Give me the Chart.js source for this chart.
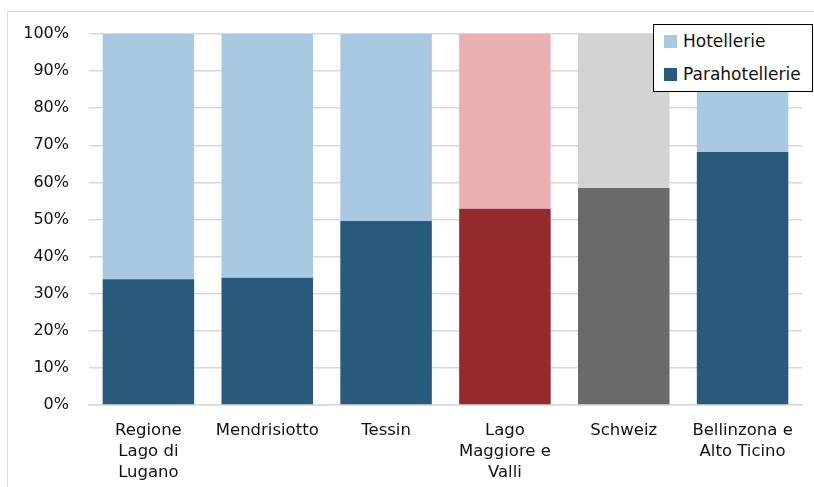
<!DOCTYPE html>
<html lang="de">
<head>
    <meta charset="UTF-8">
    <title>Hotellerie / Parahotellerie</title>
    <script src="https://cdn.jsdelivr.net/npm/chart.js"></script>
    <style>
        body {
            margin: 0;
            background: #fff;
            font-family: "DejaVu Sans", sans-serif;
        }
        #wrap {
            position: relative;
            width: 814px;
            height: 487px;
            overflow: hidden;
        }
        #frame {
            position: absolute;
            left: 7px;
            top: 11px;
            width: 820px;
            height: 490px;
            border: 1px solid #d9d9d9;
        }
        canvas {
            position: absolute;
            left: 0;
            top: 0;
        }
        #legend {
            position: absolute;
            left: 653px;
            top: 24px;
            width: 158px;
            height: 66px;
            border: 1.5px solid #000;
            background: #fff;
            font-size: 17px;
            color: #111;
        }
        .item {
            position: absolute;
            left: 10px;
            display: flex;
            align-items: center;
            white-space: nowrap;
        }
        .sw {
            width: 13px;
            height: 13px;
            margin-right: 6px;
        }
    </style>
</head>
<body>
<div id="wrap">
    <div id="frame"></div>
    <canvas id="myChart" width="814" height="487"></canvas>
    <div id="legend">
        <div class="item" style="top:6px"><span class="sw" style="background:#a9c8e2"></span>Hotellerie</div>
        <div class="item" style="top:39px"><span class="sw" style="background:#285a7c"></span>Parahotellerie</div>
    </div>
</div>

<script>
    const regions = [
        ["Regione", "Lago di", "Lugano"],
        "Mendrisiotto",
        "Tessin",
        ["Lago", "Maggiore e", "Valli"],
        "Schweiz",
        ["Bellinzona e", "Alto Ticino"]
    ];
    const parahotellerie = [33.9, 34.3, 49.6, 52.9, 58.5, 68.2];
    const hotellerie = [66.1, 65.7, 50.4, 47.1, 41.5, 31.8];

    // highlighted bars: Lago Maggiore in red, Schweiz in grey
    const darkColors = ['#285a7c', '#285a7c', '#285a7c', '#952a2c', '#6a6a6a', '#285a7c'];
    const lightColors = ['#a9c8e2', '#a9c8e2', '#a9c8e2', '#e8b0b0', '#d3d3d3', '#a9c8e2'];

    const ctx = document.getElementById('myChart').getContext('2d');
    new Chart(ctx, {
        type: 'bar',
        data: {
            labels: regions,
            datasets: [
                { label: 'Parahotellerie', data: parahotellerie, backgroundColor: darkColors },
                { label: 'Hotellerie', data: hotellerie, backgroundColor: lightColors }
            ]
        },
        options: {
            responsive: false,
            animation: false,
            layout: { padding: { top: 34, right: 12, left: 0, bottom: 0 } },
            plugins: {
                legend: { display: false },
                tooltip: { enabled: false }
            },
            datasets: {
                bar: { categoryPercentage: 1, barPercentage: 0.77 }
            },
            scales: {
                x: {
                    stacked: true,
                    grid: { display: false },
                    border: { color: '#d9d9d9', width: 1.5 },
                    ticks: {
                        color: '#111',
                        font: { family: 'DejaVu Sans', size: 16.5, lineHeight: 1.27 },
                        padding: 7,
                        maxRotation: 0,
                        autoSkip: false
                    },
                    afterFit: (axis) => { axis.height = 82; }
                },
                y: {
                    stacked: true,
                    min: 0,
                    max: 100,
                    grid: { color: '#d9d9d9', lineWidth: 1.5, drawTicks: false },
                    border: { display: false },
                    ticks: {
                        stepSize: 10,
                        color: '#111',
                        padding: 20,
                        font: { family: 'DejaVu Sans', size: 16 },
                        callback: (v) => v + '%'
                    },
                    afterFit: (axis) => { axis.width = 89; }
                }
            }
        }
    });
</script>
</body>
</html>
